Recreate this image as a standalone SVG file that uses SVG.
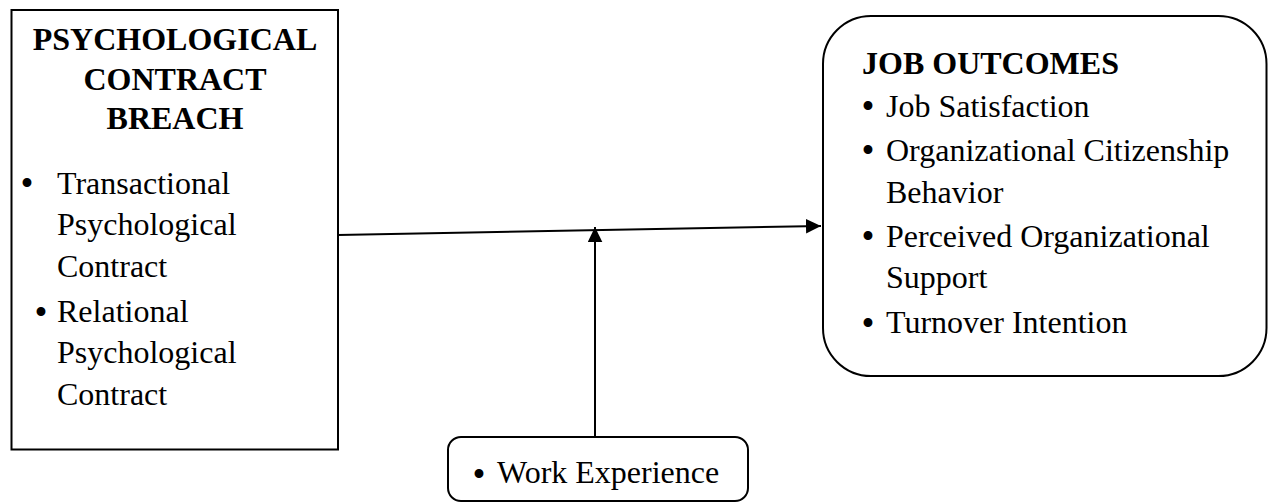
<svg xmlns="http://www.w3.org/2000/svg" width="1268" height="504" viewBox="0 0 1268 504">
<style>
.box{fill:#fff;stroke:#000;stroke-width:2}
.t{font-family:"Liberation Serif","Times New Roman",serif;font-size:32px;fill:#000}
.b{font-weight:bold}
.c{text-anchor:middle}
.bu{font-size:37px;text-anchor:middle}
.lb{font-size:32px;text-anchor:start}
.ln{stroke:#000;stroke-width:2;fill:none}
</style>
<defs>
<marker id="ah" markerUnits="userSpaceOnUse" markerWidth="16" markerHeight="16" refX="15" refY="7.3" orient="auto">
<path d="M0,0 L15,7.3 L0,14.6 Z" fill="#000"/>
</marker>
</defs>
<rect width="1268" height="504" fill="#fff"/>
<g id="connectors">
<line class="ln" x1="338" y1="235" x2="821" y2="226" marker-end="url(#ah)"/>
<line class="ln" x1="595" y1="437" x2="595" y2="227" marker-end="url(#ah)"/>
</g>
<g id="node-breach">
<rect class="box" x="11.5" y="10" width="326.5" height="439.5"/>
<text class="t b c" x="175" y="50">PSYCHOLOGICAL</text>
<text class="t b c" x="175" y="90">CONTRACT</text>
<text class="t b c" x="175" y="129">BREACH</text>
<text class="t"><tspan class="bu" x="27" y="195.5">•</tspan><tspan class="lb" x="57" y="194">Transactional</tspan></text>
<text class="t" x="57" y="235">Psychological</text>
<text class="t" x="57" y="277">Contract</text>
<text class="t"><tspan class="bu" x="41" y="324.5">•</tspan><tspan class="lb" x="57" y="322">Relational</tspan></text>
<text class="t" x="57" y="363">Psychological</text>
<text class="t" x="57" y="405">Contract</text>
</g>
<g id="node-outcomes">
<rect class="box" x="823" y="16" width="443.5" height="360" rx="48" ry="48"/>
<text class="t b" x="862" y="74">JOB OUTCOMES</text>
<text class="t"><tspan class="bu" x="868" y="118.5">•</tspan><tspan class="lb" x="886" y="117">Job Satisfaction</tspan></text>
<text class="t"><tspan class="bu" x="868" y="162.5">•</tspan><tspan class="lb" x="886" y="161">Organizational Citizenship</tspan></text>
<text class="t" x="886" y="203">Behavior</text>
<text class="t"><tspan class="bu" x="868" y="248.5">•</tspan><tspan class="lb" x="886" y="247">Perceived Organizational</tspan></text>
<text class="t" x="886" y="288">Support</text>
<text class="t"><tspan class="bu" x="868" y="335.5">•</tspan><tspan class="lb" x="886" y="333">Turnover Intention</tspan></text>
</g>
<g id="node-experience">
<rect class="box" x="448" y="437" width="300" height="64" rx="13" ry="13"/>
<text class="t"><tspan class="bu" x="479" y="486.5">•</tspan><tspan class="lb" x="497" y="483">Work Experience</tspan></text>
</g>
</svg>
